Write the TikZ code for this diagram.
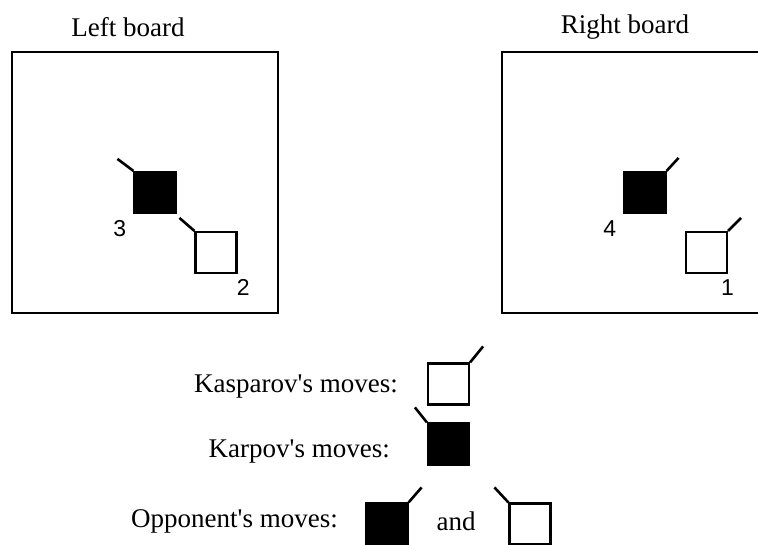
\documentclass[tikz,border=0pt]{standalone}
\usepackage{fontspec}
\setmainfont{Liberation Serif}
\setsansfont{Liberation Sans}
\usepackage{tikz}
\usetikzlibrary{positioning}
\tikzset{
  board/.style={draw, line width=2pt},
  whitemove/.style={draw, line width=2.2pt, fill=white, minimum size=41pt, inner sep=0pt},
  blackmove/.style={draw, line width=2.2pt, fill=black, minimum size=41pt, inner sep=0pt},
  tick/.style={line width=2.6pt},
  num/.style={font=\sffamily\fontsize{23}{23}\selectfont, inner sep=0pt},
  caption/.style={font=\fontsize{27}{27}\selectfont, inner sep=0pt}
}

\begin{document}
\begin{tikzpicture}[x=1pt, y=-1pt]
  \useasboundingbox (0,0) rectangle (758,544);

  % boards
  \node[caption] (ltitle) at (128,27) {Left board};
  \node[caption] (rtitle) at (625,27) {Right board};
  \draw[board] (12,52) rectangle (278,313);
  \draw[board] (502,52) rectangle (775,313);

  % left board moves
  \node[blackmove] (l3) at (155,192.5) {};
  \draw[tick] (l3.north west) -- +(-16,-12);
  \node[num, below left=6pt and 7pt of l3.south west] (n3) {3};
  \node[whitemove] (l2) at (216,252.5) {};
  \draw[tick] (l2.north west) -- +(-15,-13);
  \node[num, below right=5pt and -1pt of l2.south east] (n2) {2};

  % right board moves
  \node[blackmove] (r4) at (645,192.5) {};
  \draw[tick] (r4.north east) -- +(12,-13);
  \node[num, below left=6pt and 7pt of r4.south west] (n4) {4};
  \node[whitemove] (r1) at (706.5,252.5) {};
  \draw[tick] (r1.north east) -- +(13,-13);
  \node[num, below left=5pt and -6pt of r1.south east] (n1) {1};

  % legend
  \node[caption, anchor=east] (kasp) at (398,387) {Kasparov\textquotesingle s moves:};
  \node[whitemove] (kaspbox) at (448.5,384) {};
  \draw[tick] (kaspbox.north east) -- +(13,-16);

  \node[caption, anchor=east] (karp) at (390,452) {Karpov\textquotesingle s moves:};
  \node[blackmove] (karpbox) at (448.5,444) {};
  \draw[tick] (karpbox.north west) -- +(-12,-15);

  \node[caption, anchor=east] (opp) at (338,521) {Opponent\textquotesingle s moves:};
  \node[blackmove] (oppblack) at (387,524) {};
  \draw[tick] (oppblack.north east) -- +(13,-15);
  \node[caption] (and) at (456,521) {and};
  \node[whitemove] (oppwhite) at (530,524) {};
  \draw[tick] (oppwhite.north west) -- +(-14,-15);
\end{tikzpicture}
\end{document}
